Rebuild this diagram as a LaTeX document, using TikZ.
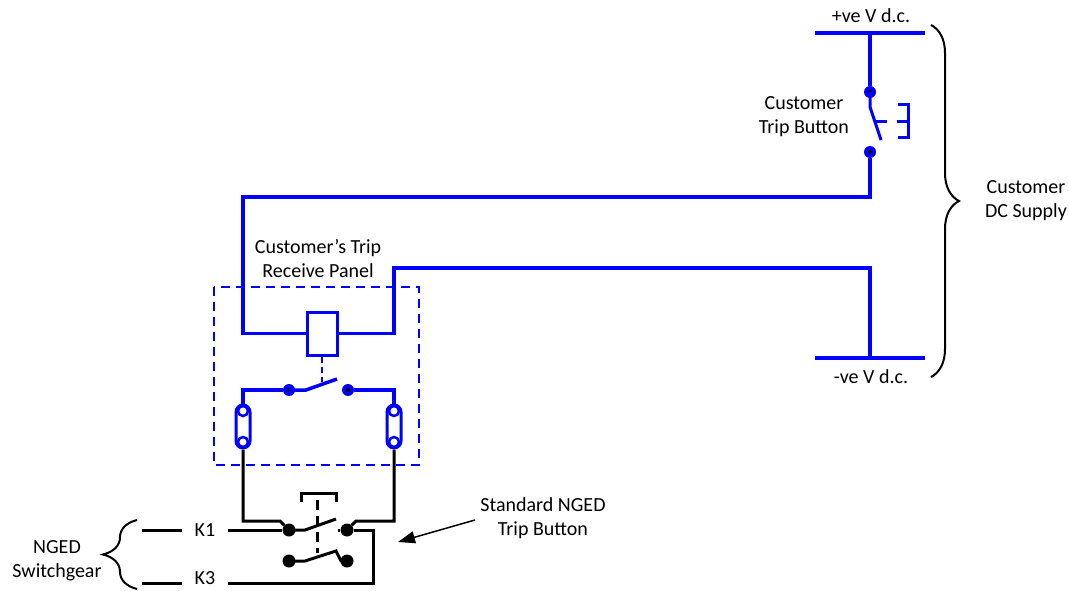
\documentclass[tikz,border=0pt]{standalone}
\usepackage{fontspec}
\setmainfont{Carlito}
\usetikzlibrary{positioning,arrows.meta,decorations.pathreplacing}
\definecolor{wireblue}{RGB}{0,0,255}
\tikzset{
  dcwire/.style   = {wireblue, line width=3.5pt},
  ctlwire/.style  = {black, line width=3pt},
  panelbox/.style = {wireblue, line width=2.5pt, dash pattern=on 9pt off 6pt},
  bluedot/.style  = {circle, fill=wireblue, inner sep=0pt, minimum size=12pt,
                     path picture={\fill[black] (path picture bounding box.center) circle (2pt);}},
  blackdot/.style = {circle, fill=black, inner sep=0pt, minimum size=13pt},
  linkcap/.style  = {draw=wireblue, fill=white, line width=3pt, rounded corners=7pt,
                     minimum width=14pt, minimum height=43pt, inner sep=0pt},
  linkring/.style = {circle, draw=wireblue, fill=white, line width=2.5pt, inner sep=0pt, minimum size=10pt},
  lbl/.style      = {align=center, font=\fontsize{20}{24}\selectfont},
  bracer/.style   = {black, line width=2pt, decorate, decoration={brace, amplitude=28pt}},
  pointer/.style  = {black, line width=1.5pt, -{Triangle[length=17pt,width=12pt]}},
}

\begin{document}
\begin{tikzpicture}[x=1pt,y=-1pt]
    \useasboundingbox (0,0) rectangle (1069,591);

    % supply rails
    \coordinate (posL) at (815,33);
    \coordinate (posR) at (925,33);
    \coordinate (posT) at (870,33);
    \coordinate (negL) at (815,358);
    \coordinate (negR) at (925,358);
    \coordinate (negT) at (870,358);
    \draw[dcwire] (posL) -- (posR);
    \draw[dcwire] (negL) -- (negR);
    \node[lbl] (posV) at (871,16) {+ve V d.c.};
    \node[lbl] (negV) at (871,377) {-ve V d.c.};

    % customer trip button
    \node[bluedot] (ctbA) at (870,92) {};
    \node[bluedot] (ctbB) at (870,152) {};
    \draw[dcwire] (posT) -- (ctbA);
    \draw[wireblue, line width=3pt] (ctbA.center) -- ++(0,15) -- (881,140);
    \draw[wireblue, line width=3pt, dash pattern=on 11pt off 10pt] (876,122) -- (908,122);
    \draw[wireblue, line width=3pt] (898,105) -- (908,105) -- (908,138) -- (898,138);
    \node[lbl] (ctbtext) at (804,117) {Customer\\Trip Button};

    % trip receive panel
    \draw[panelbox] (214,287) rectangle (419,465);
    \node[lbl] (paneltext) at (318,259) {Customer’s Trip\\Receive Panel};
    \node[draw=wireblue, fill=white, line width=3pt, minimum width=30pt, minimum height=43pt,
          inner sep=0pt] (coil) at (322,333.5) {};
    \draw[dcwire] (ctbB) -- (870,197) -- (243,197) -- (243,333.5) -- (coil.west);
    \draw[dcwire] (coil.east) -- (394,333.5) -- (394,268) -- (870,268) -- (negT);
    \draw[wireblue, line width=2pt, dash pattern=on 6pt off 4pt] (coil.south) -- (322,382);

    \node[bluedot] (rcvA) at (289,390) {};
    \node[bluedot] (rcvB) at (348,390) {};
    \node[linkcap] (linkA) at (243,426.5) {};
    \node[linkcap] (linkB) at (394,426.5) {};
    \node[linkring] at (243,411) {};
    \node[linkring] at (243,442) {};
    \node[linkring] at (394,411) {};
    \node[linkring] at (394,442) {};
    \draw[dcwire] (linkA.north) -- (243,390) -- (rcvA);
    \draw[dcwire] (rcvA.center) -- (306,390) -- (337,379);
    \draw[dcwire] (rcvB) -- (394,390) -- (linkB.north);

    % NGED trip button
    \node[blackdot] (ngA) at (289,530) {};
    \node[blackdot] (ngB) at (347,530) {};
    \node[blackdot] (ngC) at (289,561) {};
    \node[blackdot] (ngD) at (347,561) {};
    \draw[ctlwire] (linkA.south) -- (243,521) -- (280,521) -- (ngA);
    \draw[ctlwire] (linkB.south) -- (394,521) -- (356,521) -- (ngB);
    \draw[ctlwire] (ngA.center) -- (305,530) -- (336,519);
    \draw[ctlwire] (338,530) -- (ngB);
    \draw[ctlwire] (ngC.center) -- (305,561) -- (336,551) -- (341,561) -- (ngD);
    \draw[ctlwire, dash pattern=on 10pt off 6pt] (317,500) -- (317,553);
    \draw[ctlwire] (301,502) -- (301,493) -- (336,493) -- (336,502);

    % switchgear terminals
    \node[lbl] (kone) at (205,530) {K1};
    \node[lbl] (kthree) at (205,578) {K3};
    \draw[ctlwire] (142,530) -- (182,530);
    \draw[ctlwire] (142,583) -- (182,583);
    \draw[ctlwire] (228,530) -- (ngA);
    \draw[ctlwire] (ngB) -- (373,530) -- (373,583) -- (228,583);

    % braces and labels
    \draw[bracer] (931,25) -- (931,377);
    \draw[bracer, decoration={amplitude=34pt}] (137,589) -- (137,520);
    \node[lbl] (dctext) at (1026,201) {Customer\\DC Supply};
    \node[lbl] (ngtext) at (57,561) {NGED\\Switchgear};
    \node[lbl] (stdtext) at (543,518) {Standard NGED\\Trip Button};
    \draw[pointer] (475,520) -- (398,542);
\end{tikzpicture}
\end{document}
